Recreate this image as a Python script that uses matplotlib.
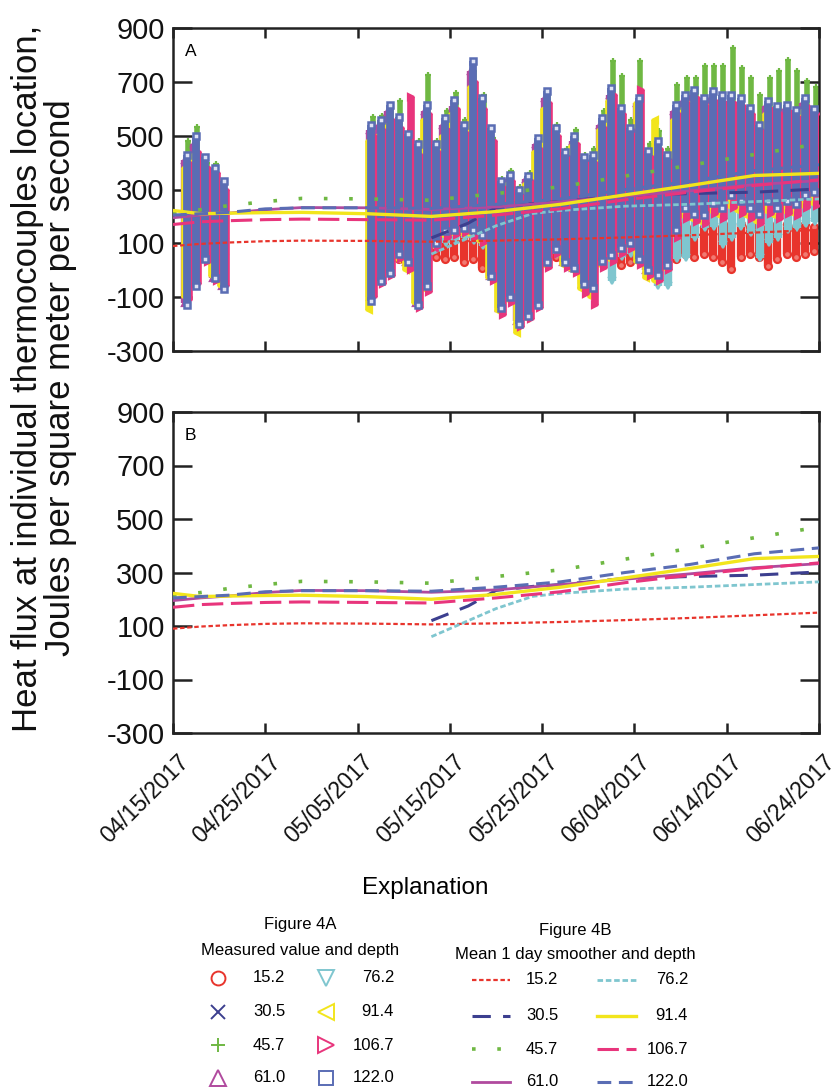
import numpy as np
import matplotlib
matplotlib.use("Agg")
import matplotlib.pyplot as plt
from matplotlib import font_manager
from matplotlib.transforms import ScaledTranslation

# ---------------------------------------------------------------- fonts
_names = {f.name for f in font_manager.fontManager.ttflist}
NARROW = "Liberation Sans Narrow" if "Liberation Sans Narrow" in _names else "Liberation Sans"
REGULAR = "Liberation Sans"

# ---------------------------------------------------------------- data
# days counted from 04/15/2017
DEPTHS = ["15.2", "30.5", "45.7", "61.0", "76.2", "91.4", "106.7", "122.0"]
DATE_TICKS = [0, 10, 20, 30, 40, 50, 60, 70]
DATE_LABELS = ["04/15/2017", "04/25/2017", "05/05/2017", "05/15/2017",
               "05/25/2017", "06/04/2017", "06/14/2017", "06/24/2017"]
Y_TICKS = [-300, -100, 100, 300, 500, 700, 900]
Y_LABELS = ["-300", "-100", "100", "300", "500", "700", "900"]

# measurement days (two recording periods)
DAYS_ALL = [1, 2, 3, 4, 5] + list(range(21, 70))
DAYS_LATE = list(range(28, 70))

# daily high / low of the measured heat flux for each depth
hi_15 = [160, 150, 170, 140, 120,
         140, 150, 160, 170, 165, 140, 160, 150, 145, 150,
         150, 160, 150, 140, 130, 140, 120, 130, 150, 170,
         150, 140, 160, 150, 160, 170, 160, 150, 160, 150,
         150, 140, 150, 160, 170, 160, 160, 170, 160, 170,
         170, 160, 170, 160, 170, 170, 160, 170, 160]
lo_15 = [10, 40, 60, 30, 60,
         60, 50, 40, 40, 30, 50, 40, 50, 40, 50,
         30, 40, 10, 40, 50, 50, 60, 50, 40, 30,
         50, 30, 40, 30, 40, 60, 50, 20, 30, 50,
         40, 30, 20, 40, 60, 50, 60, 50, 30, 4,
         50, 60, 50, 14, 40, 60, 50, 60, 70]

hi_30 = [400, 480, 540, 470, 640, 540, 450, 300, 320, 270,
         310, 420, 560, 460, 390, 430, 370, 370, 480, 570,
         510, 460, 540, 390, 410, 380, 520, 550, 570, 540,
         560, 550, 550, 540, 510, 460, 530, 520, 530, 510,
         540, 510]
lo_30 = [110, 150, 160, 160, 150, 130, 0, -120, -80, -170,
         -140, -100, 40, 90, 40, 20, -30, -50, 40, 60,
         90, 110, 50, 10, -10, 30, 140, 220, 200, 200,
         240, 220, 270, 250, 220, 200, 250, 220, 250, 240,
         270, 280]

hi_45 = [480, 532, 400, 395, 250,
         570, 572, 600, 628, 520, 480, 727, 480, 590, 659,
         560, 739, 650, 490, 340, 370, 310, 360, 480, 665,
         540, 450, 520, 430, 450, 590, 776, 720, 560, 776,
         470, 516, 450, 690, 714, 714, 758, 758, 758, 826,
         751, 714, 652, 714, 739, 782, 739, 702, 680]
lo_45 = [-80, -20, 60, 0, -40,
         -60, 0, 20, 80, 60, -80, -20, 120, 160, 170,
         170, 170, 150, 20, -100, -60, -150, -120, -80, 60,
         100, 60, 40, -20, -30, 60, 80, 100, 120, 70,
         30, 20, 50, 170, 250, 230, 230, 270, 250, 300,
         280, 250, 230, 270, 250, 270, 265, 290, 300]

hi_61 = [410, 470, 400, 370, 310,
         520, 540, 590, 550, 490, 450, 590, 450, 540, 610,
         520, 740, 610, 510, 320, 340, 290, 340, 470, 640,
         510, 430, 480, 410, 410, 540, 650, 580, 510, 620,
         430, 460, 420, 590, 630, 650, 620, 640, 630, 630,
         620, 580, 520, 610, 590, 600, 580, 620, 580]
lo_61 = [-120, -50, 40, -30, -60,
         -100, -30, 0, 60, 30, -120, -50, 100, 140, 150,
         150, 140, 120, -20, -140, -100, -190, -160, -120, 30,
         80, 30, 10, -50, -70, 30, 50, 80, 100, 40,
         0, -20, 20, 140, 220, 200, 200, 240, 220, 270,
         250, 220, 200, 250, 220, 250, 240, 270, 280]

hi_76 = [250, 260, 270, 260, 270, 260, 240, 220, 220, 200,
         210, 230, 260, 250, 250, 260, 250, 250, 260, 280,
         270, 270, 260, 250, 240, 240, 260, 280, 300, 300,
         300, 300, 310, 300, 300, 290, 300, 300, 310, 310,
         320, 300]
lo_76 = [80, 100, 110, 120, 110, 90, 20, -40, -20, -60,
         -50, -30, 40, 60, 40, 30, -10, 0, 20, -41,
         50, 60, 40, -20, -60, -60, 40, 46, 120, 157,
         160, 95, 120, 160, 140, 46, 100, 120, 150, 157,
         170, 180]

hi_91 = [380, 430, 360, 340, 280,
         480, 500, 540, 510, 480, 420, 560, 430, 500, 580,
         500, 680, 580, 470, 300, 320, 280, 320, 440, 600,
         490, 410, 460, 390, 390, 520, 630, 560, 510, 620,
         440, 560, 400, 560, 600, 620, 590, 610, 600, 600,
         590, 560, 500, 580, 560, 570, 550, 590, 560]
lo_91 = [-100, -40, 40, -20, -60,
         -146, -40, -10, 40, 0, -120, -70, 90, 130, 140,
         140, 130, 110, -30, -150, -110, -233, -177, -120, 20,
         70, 20, 0, -70, -100, 20, 40, 70, 90, 30,
         -30, -41, 10, 130, 200, 190, 180, 220, 200, 240,
         220, 200, 180, 220, 200, 220, 210, 240, 250]

hi_106 = [400, 440, 380, 360, 300,
          500, 520, 560, 530, 644, 430, 580, 440, 520, 600,
          510, 700, 600, 480, 310, 330, 280, 330, 450, 620,
          500, 420, 470, 400, 400, 530, 650, 580, 520, 671,
          420, 450, 410, 580, 620, 640, 610, 630, 620, 620,
          610, 580, 520, 600, 580, 590, 570, 610, 580]
lo_106 = [-110, -50, 30, -40, -60,
          -100, -50, -20, 40, 0, -140, -80, 80, 120, 130,
          140, 120, 100, -40, -165, -120, -210, -180, -140, 10,
          60, 10, -10, -90, -130, 10, 30, 60, 80, 20,
          -20, -40, 0, 120, 190, 180, 170, 210, 190, 230,
          210, 190, 170, 210, 190, 210, 200, 230, 240]

hi_122 = [430, 500, 420, 380, 330,
          541, 560, 615, 570, 505, 470, 615, 470, 566, 634,
          541, 776, 640, 530, 330, 355, 300, 350, 490, 665,
          530, 440, 500, 420, 430, 566, 677, 603, 529, 640,
          442, 479, 430, 615, 652, 671, 640, 665, 652, 652,
          640, 603, 541, 628, 609, 615, 597, 640, 600]
lo_122 = [-130, -60, 40, -30, -70,
          -115, -40, -10, 60, 30, -128, -60, 100, 145, 150,
          157, 150, 130, -20, -140, -100, -200, -170, -130, 30,
          80, 30, 10, -50, -66, 33, 58, 83, 100, 40,
          0, -16, 20, 150, 232, 210, 207, 250, 230, 281,
          256, 230, 210, 256, 230, 256, 245, 280, 290]

# mean 1-day smoother
SMOOTH_DAYS = [0, 3, 6, 10, 14, 21, 28, 35, 42, 49, 56, 63, 70]
SMOOTH_DAYS_LATE = [28, 32, 35, 39, 42, 49, 56, 63, 70]
sm_15 = [90, 98, 103, 108, 110, 109, 106, 110, 115, 122, 130, 140, 150]
sm_30 = [120, 175, 233, 248, 255, 278, 285, 290, 302]
sm_45 = [215, 225, 240, 255, 267, 265, 260, 285, 310, 350, 390, 430, 470]
sm_61 = [195, 205, 212, 225, 233, 232, 226, 235, 255, 275, 295, 318, 333]
sm_76 = [60, 120, 165, 211, 222, 238, 245, 255, 265]
sm_91 = [222, 210, 212, 214, 215, 210, 200, 218, 245, 280, 315, 352, 360]
sm_106 = [170, 180, 184, 188, 190, 188, 186, 205, 228, 262, 290, 315, 336]
sm_122 = [205, 210, 215, 228, 232, 232, 230, 245, 265, 300, 330, 370, 392]

# ---------------------------------------------------------------- styles
COLORS = ["#e8342c", "#3c3f8f", "#6fb843", "#b04a9e",
          "#7fc6cf", "#f2e51c", "#e8357c", "#5a6db4"]
MARKERS = ["o", "x", "+", "^", "v", "<", ">", "s"]
# horizontal position inside each day and column width (points)
OFFSETS = [0.0, -0.15, 0.15, -0.2, 0.1, -0.25, 0.25, 0.0]
COL_WIDTH = [6.0, 5.5, 4.0, 6.0, 6.0, 5.5, 5.5, 5.6]
LINE_STYLES = [
    dict(lw=1.6, ls=(0, (2, 1.2))),
    dict(lw=2.2, ls=(0, (6, 4))),
    dict(lw=2.6, ls=(0, (1, 6))),
    dict(lw=2.0, ls="-"),
    dict(lw=2.0, ls=(0, (2, 1))),
    dict(lw=2.4, ls="-"),
    dict(lw=2.2, ls=(0, (7, 2.5))),
    dict(lw=2.2, ls=(0, (4.5, 2.5))),
]

SCATTER = [
    (DAYS_ALL, hi_15, lo_15), (DAYS_LATE, hi_30, lo_30),
    (DAYS_ALL, hi_45, lo_45), (DAYS_ALL, hi_61, lo_61),
    (DAYS_LATE, hi_76, lo_76), (DAYS_ALL, hi_91, lo_91),
    (DAYS_ALL, hi_106, lo_106), (DAYS_ALL, hi_122, lo_122),
]
SMOOTH = [
    (SMOOTH_DAYS, sm_15), (SMOOTH_DAYS_LATE, sm_30), (SMOOTH_DAYS, sm_45),
    (SMOOTH_DAYS, sm_61), (SMOOTH_DAYS_LATE, sm_76), (SMOOTH_DAYS, sm_91),
    (SMOOTH_DAYS, sm_106), (SMOOTH_DAYS, sm_122),
]

W, H = 838, 1089
fig = plt.figure(figsize=(W / 100, H / 100), dpi=100)
FRAME = "#222222"


def style_axes(ax, label, show_dates):
    ax.set_xlim(0, 70)
    ax.set_ylim(-300, 900)
    for sp in ax.spines.values():
        sp.set_linewidth(1.8)
        sp.set_color(FRAME)
    ax.set_yticks(Y_TICKS)
    ax.set_yticklabels(Y_LABELS, fontsize=21, family=NARROW, color="#111111")
    ax.tick_params(axis="y", direction="in", length=14, width=1.8, color=FRAME,
                   right=True, pad=6)
    ax.set_xticks(DATE_TICKS)
    ax.tick_params(axis="x", direction="in", length=7, width=1.8, color=FRAME,
                   top=True, pad=4)
    if show_dates:
        ax.set_xticklabels(DATE_LABELS, fontsize=16.5, family=NARROW,
                           rotation=45, ha="right", va="center",
                           rotation_mode="anchor", color="#111111")
        off = ScaledTranslation(12 / 100, -20 / 100, fig.dpi_scale_trans)
        for t in ax.get_xticklabels():
            t.set_transform(t.get_transform() + off)
    else:
        ax.set_xticklabels([])
    ax.text(0.018, 0.95, label, transform=ax.transAxes, fontsize=12.5,
            family=NARROW, va="top", ha="left")


def draw_smooth(ax):
    for (days, vals), c, st in zip(SMOOTH, COLORS, LINE_STYLES):
        ax.plot(days, vals, color=c, lw=st["lw"], ls=st["ls"], zorder=5)


axA = fig.add_axes([173 / W, 1 - 351 / H, 646 / W, 323 / H])
axB = fig.add_axes([173 / W, 1 - 733 / H, 646 / W, 321 / H])

# panel A: measured values, one column per day between daily low and high
for k, ((days, hi, lo), c, m, off, cw) in enumerate(
        zip(SCATTER, COLORS, MARKERS, OFFSETS, COL_WIDTH)):
    x = np.asarray(days, dtype=float) + 0.5 + off
    axA.vlines(x, lo, hi, color=c, lw=cw, zorder=2 + k * 0.1)
    kw = dict(ls="none", marker=m, color=c, ms=4.5, mew=1.6, zorder=2.05 + k * 0.1)
    if m == "s":
        kw.update(mfc="#dde2f4", mec=c, ms=5, mew=1.8)
    elif m == "o":
        kw.update(mfc="#f07a72", mec=c, ms=5)
    axA.plot(x, hi, **kw)
    axA.plot(x, lo, **kw)

draw_smooth(axA)
draw_smooth(axB)
style_axes(axA, "A", False)
style_axes(axB, "B", True)

fig.text(44 / W, 1 - 378 / H,
         "Heat flux at individual thermocouples location,\n"
         "Joules per square meter per second",
         rotation=90, ha="center", va="center", fontsize=25,
         family=REGULAR, linespacing=1.0, color="#111111")

# ---------------------------------------------------------------- explanation
lax = fig.add_axes([0, 0, 1, 1], zorder=-1)
lax.set_xlim(0, W)
lax.set_ylim(H, 0)
lax.axis("off")
lax.patch.set_visible(False)

FS = 12
lax.text(425, 888, "Explanation", fontsize=17.5, family=NARROW,
         ha="center", va="center")
lax.text(300, 925, "Figure 4A", fontsize=FS, family=NARROW, ha="center", va="center")
lax.text(300, 950, "Measured value and depth", fontsize=FS, family=NARROW,
         ha="center", va="center")
lax.text(575, 930, "Figure 4B", fontsize=FS, family=NARROW, ha="center", va="center")
lax.text(575, 955, "Mean 1 day smoother and depth", fontsize=FS, family=NARROW,
         ha="center", va="center")

rowsA = [978, 1012, 1045, 1078]
rowsB = [980, 1016, 1049, 1082]
for i, (d, c, m) in enumerate(zip(DEPTHS, COLORS, MARKERS)):
    col, row = divmod(i, 4)
    ya = rowsA[row]
    xs = 218 if col == 0 else 326
    lax.plot([xs], [ya], marker=m, ms=10 if m in "ox+s" else 11, mfc="none",
             mec=c, mew=1.4, ls="none")
    if col == 0:
        lax.text(253, ya, d, fontsize=FS, family=NARROW, ha="left", va="center")
    else:
        lax.text(394, ya, d, fontsize=FS, family=NARROW, ha="right", va="center")

    yb = rowsB[row]
    st = LINE_STYLES[i]
    x0, x1 = (472, 510) if col == 0 else (597, 636)
    lax.plot([x0, x1], [yb, yb], color=c, lw=st["lw"], ls=st["ls"])
    if col == 0:
        lax.text(526, yb, d, fontsize=FS, family=NARROW, ha="left", va="center")
    else:
        lax.text(688, yb, d, fontsize=FS, family=NARROW, ha="right", va="center")

fig.savefig("out.png", dpi=100)
